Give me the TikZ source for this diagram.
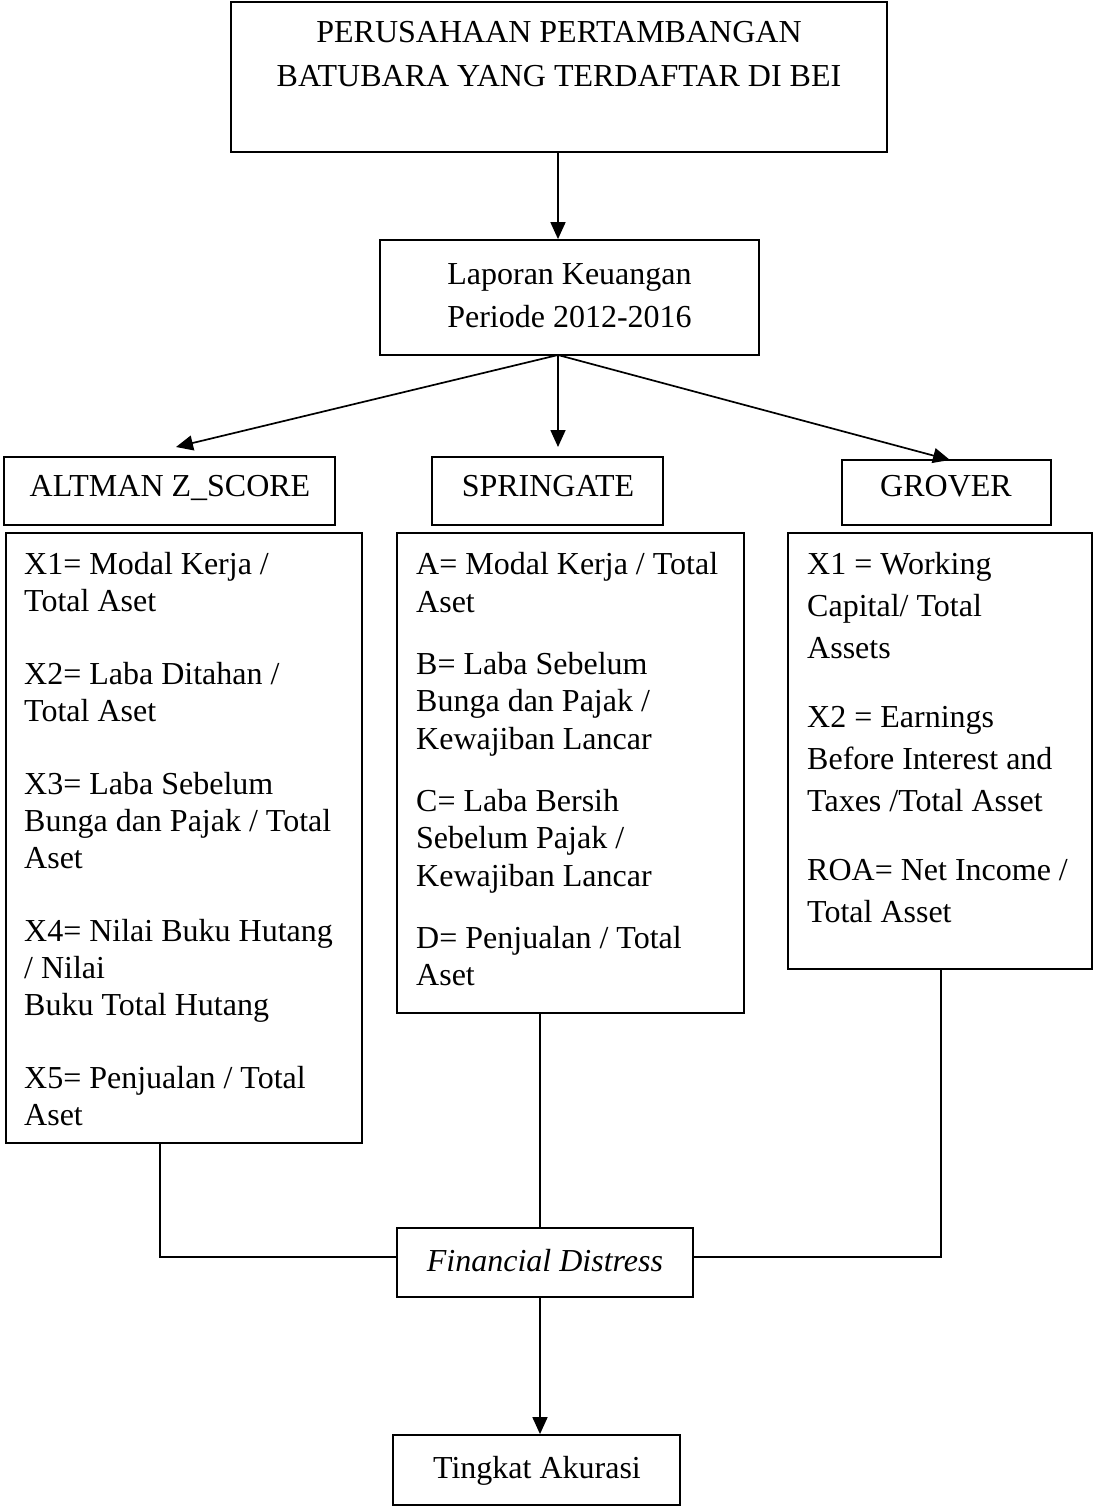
\documentclass[tikz,border=0pt]{standalone}
\usepackage{fontspec}
\setmainfont{Liberation Serif}
\usetikzlibrary{arrows.meta}
\begin{document}
\begin{tikzpicture}[x=1pt,y=-1pt,
  box/.style={draw,line width=1.8pt,inner sep=0pt},
  txt/.style={inner sep=0pt,font=\fontsize{32}{37}\selectfont},
  conn/.style={line width=1.7pt},
  arr/.style={line width=1.7pt,-{Triangle[length=17pt,width=15pt]}}]
\useasboundingbox (0,0) rectangle (1093,1507);
\fill[white] (0,0) rectangle (1093,1507);
% boxes
\node[box,minimum width=656pt,minimum height=150pt] (top) at (559,77) {};
\node[box,minimum width=379pt,minimum height=115pt] (lap) at (569.5,297.5) {};
\node[box,minimum width=331pt,minimum height=68pt] (altH) at (169.5,491) {};
\node[box,minimum width=231pt,minimum height=68pt] (sprH) at (547.5,491) {};
\node[box,minimum width=209pt,minimum height=65pt] (grvH) at (946.5,492.5) {};
\node[box,minimum width=356pt,minimum height=610pt] (alt) at (184,838) {};
\node[box,minimum width=347pt,minimum height=480pt] (spr) at (570.5,773) {};
\node[box,minimum width=304pt,minimum height=436pt] (grv) at (940,751) {};
\node[box,minimum width=296pt,minimum height=69pt] (fd) at (545,1262.5) {};
\node[box,minimum width=287pt,minimum height=70pt] (ta) at (536.5,1470) {};
% texts
\node[txt,align=center,anchor=north,font=\fontsize{32}{44}\selectfont] (topT) at (559,21.5)
  {PERUSAHAAN PERTAMBANGAN\\BATUBARA YANG TERDAFTAR DI BEI};
\node[txt,align=center,anchor=north,font=\fontsize{32}{43}\selectfont] (lapT) at (569.5,263.5)
  {Laporan Keuangan\\Periode 2012-2016};
\node[txt,anchor=base] (altHT) at (170,496) {ALTMAN Z\_SCORE};
\node[txt,anchor=base] (sprHT) at (548,496) {SPRINGATE};
\node[txt,anchor=base] (grvHT) at (946,496) {GROVER};
\node[txt,align=left,anchor=north west] (altT) at (24,552.5)
  {X1= Modal Kerja /\\Total Aset\\[36pt]
   X2= Laba Ditahan /\\Total Aset\\[36pt]
   X3= Laba Sebelum\\Bunga dan Pajak / Total\\Aset\\[36pt]
   X4= Nilai Buku Hutang\\/ Nilai\\Buku Total Hutang\\[36pt]
   X5= Penjualan / Total\\Aset};
\node[txt,align=left,anchor=north west,font=\fontsize{32}{37.5}\selectfont] (sprT) at (416,552.5)
  {A= Modal Kerja / Total\\Aset\\[24.5pt]
   B= Laba Sebelum\\Bunga dan Pajak /\\Kewajiban Lancar\\[24.5pt]
   C= Laba Bersih\\Sebelum Pajak /\\Kewajiban Lancar\\[24.5pt]
   D= Penjualan / Total\\Aset};
\node[txt,align=left,anchor=north west,font=\fontsize{32}{42}\selectfont] (grvT) at (807,552.5)
  {X1 = Working\\Capital/ Total\\Assets\\[27pt]
   X2 = Earnings\\Before Interest and\\Taxes /Total Asset\\[27pt]
   ROA= Net Income /\\Total Asset};
\node[txt,anchor=base,font=\fontsize{32}{37}\itshape] (fdT) at (545,1271) {Financial Distress};
\node[txt,anchor=base] (taT) at (537,1478) {Tingkat Akurasi};
% coordinates for arrow tips
\coordinate (tipA) at (176,447);
\coordinate (tipS) at (558,447);
\coordinate (tipG) at (950,460);
\coordinate (lapOut) at (558,355);
\coordinate (altX) at (160,0);
\coordinate (sprX) at (540,0);
\coordinate (grvX) at (941,0);
\coordinate (fdY) at (0,1257);
% connectors
\draw[arr] (top.south -| lapOut) -- (lap.north -| lapOut);
\draw[arr] (lapOut) -- (tipA);
\draw[arr] (lapOut) -- (tipS);
\draw[arr] (lapOut) -- (tipG);
\draw[conn] (alt.south -| altX) -- (altX |- fdY) -- (fd.west |- fdY);
\draw[conn] (spr.south -| sprX) -- (fd.north -| sprX);
\draw[conn] (grv.south -| grvX) -- (grvX |- fdY) -- (fd.east |- fdY);
\draw[arr] (fd.south -| sprX) -- (ta.north -| sprX);
\end{tikzpicture}
\end{document}
